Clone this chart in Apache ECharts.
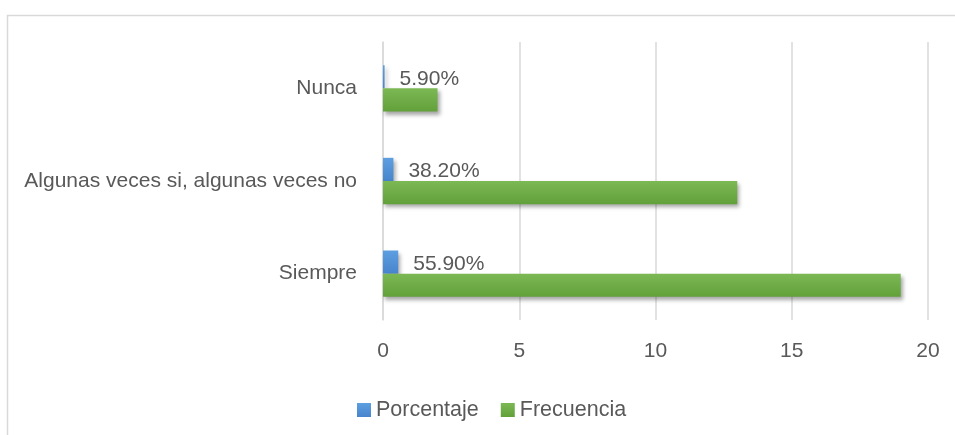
<!DOCTYPE html>
<html>
<head>
<meta charset="utf-8">
<script src="https://cdn.jsdelivr.net/npm/echarts@6/dist/echarts.min.js"></script>
<style>
  html, body { margin: 0; padding: 0; background: #fff; }
  #chart { width: 955px; height: 435px; }
</style>
</head>
<body>
<div id="chart"></div>
<script>
// datos
const categorias = ['Siempre', 'Algunas veces si, algunas veces no', 'Nunca'];
const porcentaje = [0.559, 0.382, 0.059];
const frecuencia = [19, 13, 2];
const ticksX = [0, 5, 10, 15, 20];

const FONT = 'Liberation Sans';
const TXT = '#595959';

const chart = echarts.init(document.getElementById('chart'));

const sombra = {
  shadowColor: 'rgba(0,0,0,0.35)',
  shadowBlur: 4,
  shadowOffsetX: 2,
  shadowOffsetY: 3
};

const option = {
  animation: false,
  textStyle: { fontFamily: FONT },
  graphic: [{
    type: 'rect',
    left: 5, top: 13,
    shape: { width: 1000, height: 500 },
    style: { fill: 'none', stroke: '#d9d9d9', lineWidth: 1.5 }
  }],
  grid: { left: 383, right: 27, top: 42, bottom: 115 },
  legend: {
    left: 352, top: 394,
    itemWidth: 14, itemHeight: 14, itemGap: 22,
    icon: 'rect',
    textStyle: { color: TXT, fontSize: 21.5, fontFamily: FONT },
    data: ['Porcentaje', 'Frecuencia']
  },
  xAxis: {
    type: 'value',
    min: ticksX[0], max: ticksX[ticksX.length - 1], interval: 5,
    axisLine: { show: false },
    axisTick: { show: false },
    splitLine: { lineStyle: { color: '#d9d9d9', width: 1.5 } },
    axisLabel: { color: TXT, fontSize: 21, margin: 21 }
  },
  yAxis: {
    type: 'category',
    data: categorias,
    axisLine: { show: true, lineStyle: { color: '#d9d9d9', width: 1.5 } },
    axisTick: { show: false },
    axisLabel: { color: TXT, fontSize: 21, margin: 26 }
  },
  series: [
    {
      name: 'Porcentaje',
      type: 'bar',
      data: porcentaje,
      barGap: '0%',
      barCategoryGap: '50%',
      itemStyle: Object.assign({
        color: new echarts.graphic.LinearGradient(0, 0, 0, 1, [
          { offset: 0, color: '#5d9fe0' },
          { offset: 1, color: '#4784cc' }
        ])
      }, sombra),
      label: {
        show: true,
        position: 'right',
        distance: 15,
        color: TXT,
        fontSize: 21,
        offset: [0, 2],
        formatter: p => (p.value * 100).toFixed(2) + '%'
      }
    },
    {
      name: 'Frecuencia',
      type: 'bar',
      data: frecuencia,
      barGap: '0%',
      barCategoryGap: '50%',
      itemStyle: Object.assign({
        color: new echarts.graphic.LinearGradient(0, 0, 0, 1, [
          { offset: 0, color: '#7cb955' },
          { offset: 1, color: '#62a03a' }
        ])
      }, sombra)
    }
  ]
};

chart.setOption(option);
</script>
</body>
</html>
